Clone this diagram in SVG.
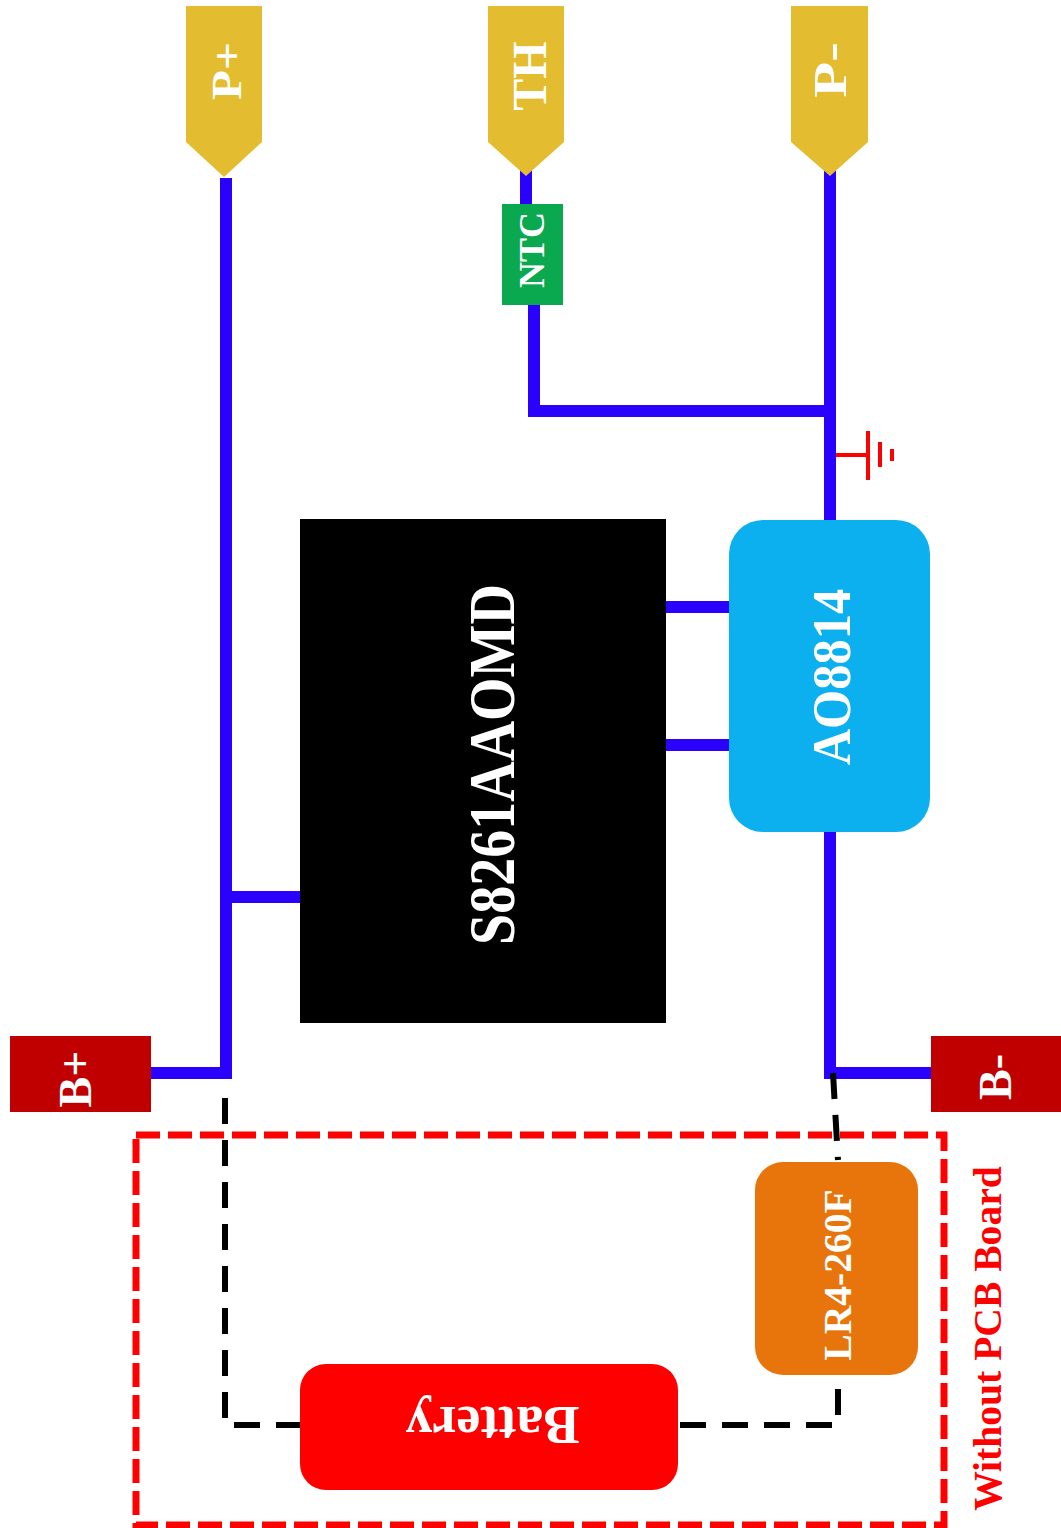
<svg xmlns="http://www.w3.org/2000/svg" width="1061" height="1528" viewBox="0 0 1061 1528">
<style>
.w{fill:none;stroke:#2a00ff;stroke-width:12}
.d{fill:none;stroke:#000;stroke-width:6;stroke-dasharray:26 16}
.t{font-family:"Liberation Serif","Times New Roman",serif;font-weight:bold;fill:#fff;text-anchor:middle}
.pad{fill:#e4bc30}
.bat{fill:#c00000}
</style>
<rect width="1061" height="1528" fill="#fff"/>
<g id="connectors">
<path class="w" d="M226 178V1073H150M226 897H300"/>
<path class="w" d="M526 170V205M534 304V411H830"/>
<path class="w" d="M830 170V520M666 607H730M666 745H730M830 832V1073H931"/>
<path class="d" d="M225 1098V1425H300"/>
<path class="d" d="M680 1425H838V1388"/>
<path class="d" d="M833 1073L838 1160"/>
</g>
<g id="ground" fill="none" stroke="#ff0000" stroke-width="4">
<path d="M836 455H868M868 431V480"/>
<path d="M880 442V467"/>
<path d="M892 449V461"/>
</g>
<g id="p-plus"><polygon class="pad" points="186,6 262,6 262,142 224,177 186,142"/><text class="t" transform="translate(241 71) rotate(-90) scale(1.17 1)" font-size="42">P+</text></g>
<g id="th"><polygon class="pad" points="488,6 564,6 564,142 526,176 488,142"/><text class="t" transform="translate(546 76) rotate(-90)" font-size="48">TH</text></g>
<g id="p-minus"><polygon class="pad" points="791,6 868,6 868,142 830,176 791,142"/><text class="t" transform="translate(846 70) rotate(-90) scale(1.28 1)" font-size="46">P-</text></g>
<g id="ntc"><rect x="502" y="204" width="61" height="101" fill="#0aa84f"/><text class="t" transform="translate(544 250) rotate(-90)" font-size="36">NTC</text></g>
<g id="s8261"><rect x="300" y="519" width="366" height="504" fill="#000"/><text class="t" transform="translate(514 764.5) rotate(-90) scale(1 1.18)" font-size="56">S8261AAOMD</text></g>
<g id="ao8814"><rect x="729" y="520" width="201" height="312" rx="34" fill="#0cb0ee"/><text class="t" transform="translate(850 677) rotate(-90) scale(1 1.1)" font-size="50.5">AO8814</text></g>
<g id="b-plus"><rect x="10" y="1036" width="141" height="76" class="bat"/><text class="t" transform="translate(91 1079) rotate(-90)" font-size="46">B+</text></g>
<g id="b-minus"><rect x="931" y="1036" width="130" height="76" class="bat"/><text class="t" transform="translate(1011 1077) rotate(-90)" font-size="46">B-</text></g>
<g id="pcb-boundary"><rect x="136" y="1135" width="808" height="390" fill="none" stroke="#ff0000" stroke-width="7" stroke-dasharray="24 8"/><text transform="translate(1001 1338.5) rotate(-90)" font-family="Liberation Serif,serif" font-weight="bold" font-size="39.6" fill="#ff0000" text-anchor="middle">Without PCB Board</text></g>
<g id="lr4"><rect x="755" y="1162" width="163" height="213" rx="28" fill="#e8740c"/><text class="t" transform="translate(851 1275) rotate(-90)" font-size="39.6">LR4-260F</text></g>
<g id="battery"><rect x="300" y="1364" width="378" height="126" rx="26" fill="#ff0000"/><text class="t" transform="translate(492.5 1407) rotate(180)" font-size="54">Battery</text></g>
</svg>
